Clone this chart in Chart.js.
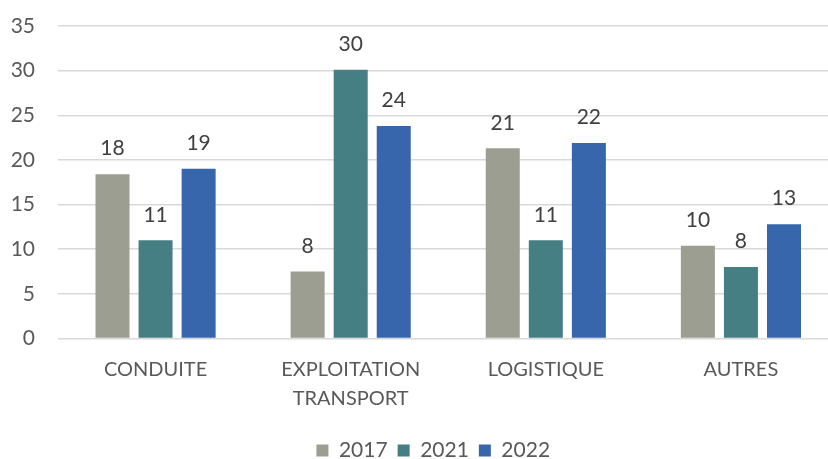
<!DOCTYPE html>
<html>
<head>
<meta charset="utf-8">
<script src="https://cdn.jsdelivr.net/npm/chart.js@4"></script>
<style>
  html, body { margin: 0; padding: 0; background: #fff; overflow: hidden; }
  #wrap { position: relative; width: 872px; height: 471px; }
</style>
</head>
<body>
<div id="wrap"><canvas id="chart"></canvas></div>
<script>
// Categories and yearly counts
const categories = ['CONDUITE', ['EXPLOITATION', 'TRANSPORT'], 'LOGISTIQUE', 'AUTRES'];
const years = ['2017', '2021', '2022'];
const values2017 = [18.4, 7.5, 21.3, 10.4];
const values2021 = [11.0, 30.1, 11.0, 8.0];
const values2022 = [19.0, 23.8, 21.9, 12.8];
const yTicks = [0, 5, 10, 15, 20, 25, 30, 35];

const colors = {
  y2017: '#9C9E91',
  y2021: '#457F83',
  y2022: '#3866AD',
  text: '#595959',
  grid: '#D9D9D9'
};

const fontFamily = "Lato, 'Liberation Sans', sans-serif";

// Draws the rounded value above each bar
const valueLabels = {
  id: 'valueLabels',
  afterDatasetsDraw(chart) {
    const ctx = chart.ctx;
    ctx.save();
    ctx.font = '21px ' + fontFamily;
    ctx.fillStyle = '#404040';
    ctx.textAlign = 'center';
    ctx.textBaseline = 'bottom';
    chart.data.datasets.forEach((ds, i) => {
      chart.getDatasetMeta(i).data.forEach((bar, j) => {
        ctx.fillText(Math.round(ds.data[j]), bar.x, bar.y - 15);
      });
    });
    ctx.restore();
  }
};

// Nudges the legend to the right
const legendShift = {
  id: 'legendShift',
  afterLayout(chart) {
    chart.legend.left += 9;
    chart.legend.right += 9;
  }
};

new Chart(document.getElementById('chart'), {
  type: 'bar',
  data: {
    labels: categories,
    datasets: [
      { label: years[0], data: values2017, backgroundColor: colors.y2017 },
      { label: years[1], data: values2021, backgroundColor: colors.y2021 },
      { label: years[2], data: values2022, backgroundColor: colors.y2022 }
    ]
  },
  options: {
    responsive: true,
    maintainAspectRatio: false,
    animation: false,
    categoryPercentage: 0.662,
    barPercentage: 0.79,
    layout: { padding: { top: 26, right: 33.5, left: 10, bottom: 0 } },
    plugins: {
      legend: {
        display: true,
        position: 'bottom',
        labels: {
          boxWidth: 12,
          boxHeight: 12,
          padding: 10,
          color: colors.text,
          font: { family: fontFamily, size: 21 }
        }
      },
      tooltip: { enabled: false }
    },
    scales: {
      x: {
        afterFit(axis) { axis.height = 91.5; },
        grid: { display: false, drawTicks: false },
        border: { display: false },
        ticks: {
          color: colors.text,
          padding: 16.5,
          maxRotation: 0,
          font: { family: fontFamily, size: 20, lineHeight: 1.45 }
        }
      },
      y: {
        min: 0,
        max: 35,
        afterFit(axis) {
          axis.width = 48;
          axis.paddingTop = 0;
          axis.paddingBottom = 0;
        },
        afterBuildTicks(axis) {
          axis.ticks = yTicks.map(v => ({ value: v }));
        },
        grid: { color: colors.grid, lineWidth: 1.5, drawTicks: false },
        border: { display: false },
        ticks: {
          color: colors.text,
          padding: 23,
          font: { family: fontFamily, size: 21 }
        }
      }
    }
  },
  plugins: [valueLabels, legendShift]
});
</script>
</body>
</html>
